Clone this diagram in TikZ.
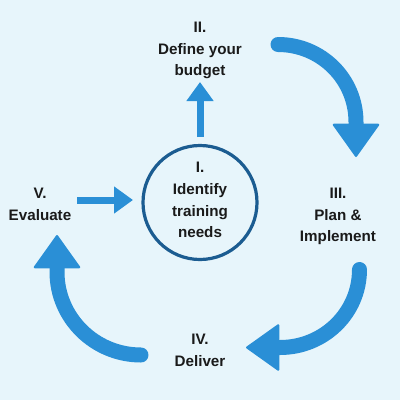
\documentclass[tikz,border=0pt]{standalone}
\usepackage{fontspec}
\setmainfont{Liberation Sans}
\usetikzlibrary{arrows.meta}
\definecolor{bgc}{HTML}{E7F5FB}
\definecolor{arrowc}{HTML}{2A8FD6}
\definecolor{ringc}{HTML}{1B5C91}
\definecolor{txtc}{HTML}{1A1A1A}
\begin{document}
\begin{tikzpicture}[x=0.75pt,y=-0.75pt,
  lbl/.style={align=center, text=txtc, font=\fontsize{11.4}{16.3}\selectfont\bfseries, inner sep=0pt},
  ring/.style={circle, draw=ringc, line width=2.4pt, minimum size=85.5pt, inner sep=0pt},
  thinarrow/.style={draw=arrowc, line width=5.25pt, -{Triangle[width=19.5pt,length=14.25pt]}},
  bigarrow/.style={draw=arrowc, line width=11.25pt, line cap=round, -{Triangle[width=36pt,length=25.5pt,line width=1.5pt,round]}}]
\fill[bgc] (0,0) rectangle (400,400);
\useasboundingbox (0,0) rectangle (400,400);
% nodes
\node[ring] (c) at (200,202.5) {};
\node[lbl] (c1) at (200,200) {I.\\Identify\\training\\needs};
\node[lbl] (s2) at (200,50.5) {II.\\Define your\\budget};
\node[lbl] (s3) at (338,216.5) {III.\\Plan \&\\Implement};
\node[lbl] (s4) at (200,350.5) {IV.\\Deliver};
\node[lbl] (s5) at (40,204.5) {V.\\Evaluate};
% straight arrows
\coordinate (upS) at (200,137);
\coordinate (upE) at (200,82);
\draw[thinarrow] (upS) -- (upE);
\coordinate (rtS) at (77,200);
\coordinate (rtE) at (133,200);
\draw[thinarrow] (rtS) -- (rtE);
% curved arrows
\coordinate (a1S) at (278,44.5);
\coordinate (a1E) at (356,157);
\draw[bigarrow] (a1S) .. controls (321.1,44.5) and (356,78.9) .. (356,122) -- (a1E);
\coordinate (a2S) at (359.5,269.5);
\coordinate (a2E) at (246,347.5);
\draw[bigarrow] (a2S) .. controls (359.5,312.9) and (323.9,347.5) .. (280,347.5) -- (a2E);
\coordinate (a3S) at (141,355);
\coordinate (a3E) at (57,235);
\draw[bigarrow] (a3S) .. controls (94.6,355) and (57,317.8) .. (57,272) -- (a3E);
\end{tikzpicture}
\end{document}
